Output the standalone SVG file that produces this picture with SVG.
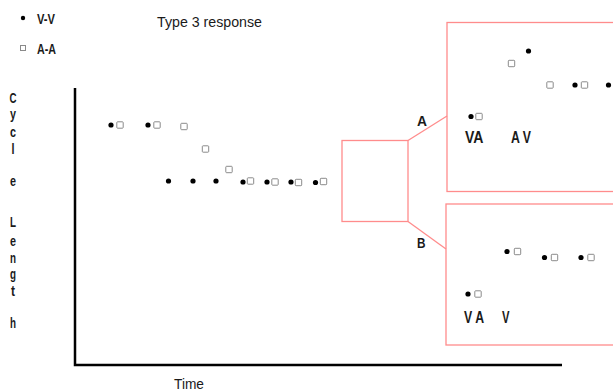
<svg xmlns="http://www.w3.org/2000/svg" width="613" height="392" viewBox="0 0 613 392">
<style>
text{font-family:"Liberation Sans",Arial,sans-serif;fill:#1a1a1a;}
.lbl{font-size:15px;font-weight:bold;}
.ax{font-size:15px;text-anchor:middle;font-weight:bold;}
.bx{font-size:16px;font-weight:bold;}
.dot{fill:#000;}
.sq{fill:#fff;stroke:#8a8a8a;stroke-width:1;}
.red{fill:none;stroke:#ff8c8c;stroke-width:1.3;}
.axis{stroke:#000;stroke-width:2.5;fill:none;}
</style>
<defs>
<circle id="d" r="2.6" class="dot"/>
<rect id="s" x="-3.2" y="-3.2" width="6.4" height="6.4" rx="0.8" class="sq"/>
</defs>
<rect width="613" height="392" fill="#fff"/>

<g id="legend">
<circle cx="23" cy="18" r="2.2" class="dot"/>
<text x="37" y="24" class="lbl" textLength="18" lengthAdjust="spacingAndGlyphs">V-V</text>
<rect x="20.5" y="45.5" width="5" height="5" class="sq"/>
<text x="37" y="54" class="lbl" textLength="19" lengthAdjust="spacingAndGlyphs">A-A</text>
</g>
<g id="title"><text x="157" y="27" font-size="14" textLength="105" lengthAdjust="spacingAndGlyphs">Type 3 response</text></g>

<g id="y-label">
<text x="13" y="103" class="ax" textLength="7" lengthAdjust="spacingAndGlyphs">C</text>
<text x="13" y="119" class="ax" textLength="6" lengthAdjust="spacingAndGlyphs">y</text>
<text x="13" y="137" class="ax" textLength="6" lengthAdjust="spacingAndGlyphs">c</text>
<text x="13" y="154" class="ax" textLength="3" lengthAdjust="spacingAndGlyphs">l</text>
<text x="13" y="186" class="ax" textLength="6" lengthAdjust="spacingAndGlyphs">e</text>
<text x="13" y="227" class="ax" textLength="6" lengthAdjust="spacingAndGlyphs">L</text>
<text x="13" y="246" class="ax" textLength="6" lengthAdjust="spacingAndGlyphs">e</text>
<text x="13" y="263" class="ax" textLength="6" lengthAdjust="spacingAndGlyphs">n</text>
<text x="13" y="279" class="ax" textLength="6" lengthAdjust="spacingAndGlyphs">g</text>
<text x="13" y="296" class="ax" textLength="4" lengthAdjust="spacingAndGlyphs">t</text>
<text x="13" y="328" class="ax" textLength="6" lengthAdjust="spacingAndGlyphs">h</text>
</g>

<g id="axes">
<path class="axis" d="M75 88 V365 H562"/>
<text x="174" y="389" font-size="15" textLength="30" lengthAdjust="spacingAndGlyphs">Time</text>
</g>

<g id="main-data">
<use href="#d" x="111" y="125"/><use href="#s" x="120" y="125"/>
<use href="#d" x="148" y="125"/><use href="#s" x="157" y="125"/>
<use href="#s" x="184" y="126.5"/>
<use href="#s" x="205.5" y="149"/>
<use href="#s" x="229" y="169.5"/>
<use href="#d" x="168.5" y="181"/>
<use href="#d" x="193" y="181"/>
<use href="#d" x="216" y="181"/>
<use href="#d" x="243" y="182"/><use href="#s" x="250.5" y="181"/>
<use href="#d" x="267" y="182"/><use href="#s" x="275" y="182"/>
<use href="#d" x="291" y="182"/><use href="#s" x="298.5" y="182.5"/>
<use href="#d" x="315.5" y="182.5"/><use href="#s" x="323.5" y="181.5"/>
</g>

<g id="connectors">
<rect class="red" x="342" y="140.5" width="66" height="81"/>
<line class="red" x1="408" y1="140.5" x2="447" y2="116"/>
<line class="red" x1="408" y1="221.5" x2="446" y2="249"/>
</g>
<g id="label-A"><text x="417" y="126" class="lbl" font-size="14" textLength="10" lengthAdjust="spacingAndGlyphs">A</text></g>
<g id="label-B"><text x="417" y="248" class="lbl" font-size="14" textLength="8.5" lengthAdjust="spacingAndGlyphs">B</text></g>

<g id="box-A">
<rect class="red" x="447" y="22.5" width="180" height="169"/>
<use href="#d" x="471" y="116.5"/><use href="#s" x="479" y="116.5"/>
<use href="#s" x="511.5" y="63.5"/>
<use href="#d" x="528.5" y="51"/>
<use href="#s" x="550" y="85"/>
<use href="#d" x="575" y="85"/><use href="#s" x="584.5" y="85"/>
<use href="#d" x="608.5" y="85"/>
<text x="465" y="143" class="bx" textLength="18.5" lengthAdjust="spacingAndGlyphs">VA</text>
<text x="511" y="143" class="bx" textLength="20" lengthAdjust="spacingAndGlyphs">A V</text>
</g>

<g id="box-B">
<rect class="red" x="446" y="204" width="180" height="141"/>
<use href="#d" x="507" y="251.5"/><use href="#s" x="517.5" y="251.5"/>
<use href="#d" x="544.5" y="257.5"/><use href="#s" x="554.5" y="257.5"/>
<use href="#d" x="581" y="257.5"/><use href="#s" x="591" y="257.5"/>
<use href="#d" x="468" y="294"/><use href="#s" x="478" y="294"/>
<text x="464" y="323" class="bx" textLength="20" lengthAdjust="spacingAndGlyphs">V A</text>
<text x="502" y="323" class="bx" textLength="7.5" lengthAdjust="spacingAndGlyphs">V</text>
</g>
</svg>
